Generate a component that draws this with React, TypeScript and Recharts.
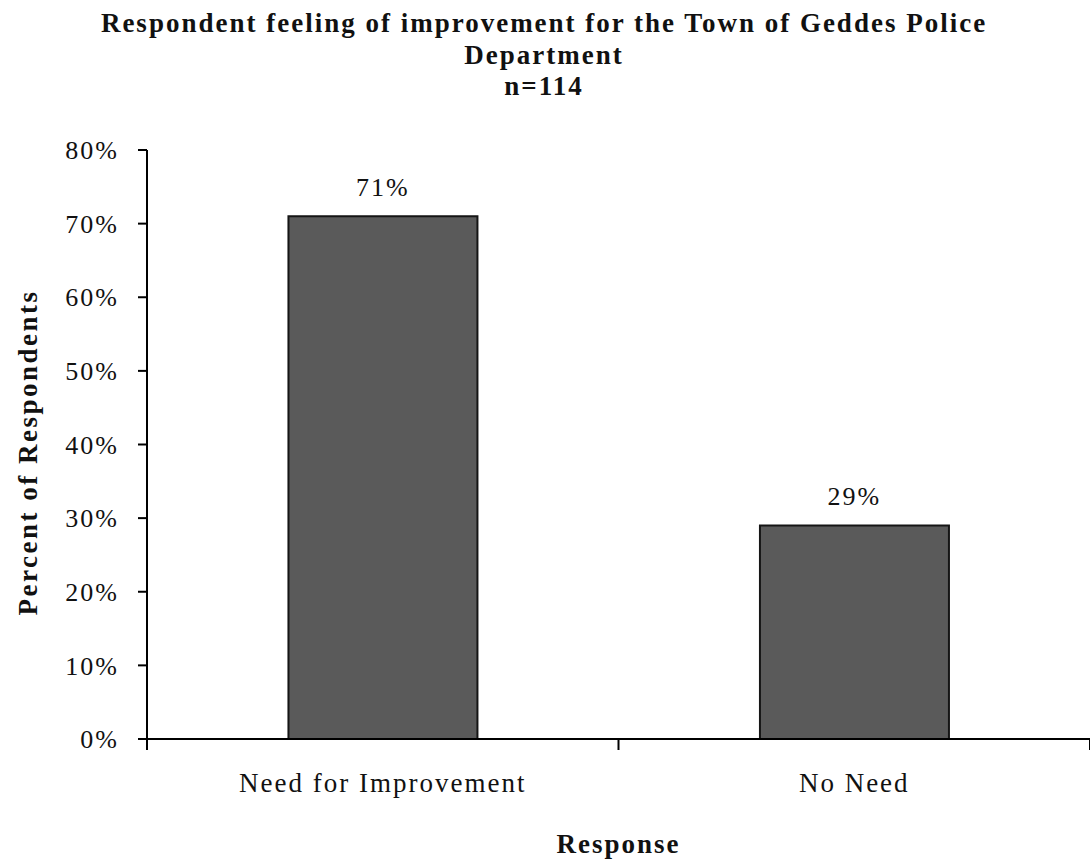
import { BarChart, Bar, XAxis, YAxis, LabelList } from "recharts";

const categories = ["Need for Improvement", "No Need"];
const percentValues = [71, 29];
const yTicks = [0, 10, 20, 30, 40, 50, 60, 70, 80];

const data = categories.map((name, i) => ({ name, value: percentValues[i] }));

const serif = "Liberation Serif, Times New Roman, serif";

function CategoryTick(props: any) {
  const { x, y, payload, index } = props;
  const half = payload?.offset ?? 0;
  return (
    <g>
      {/* tick marks sit on the band edges, not the band centres */}
      {index === 0 && (
        <line x1={x - half} y1={y - 8} x2={x - half} y2={y + 3} stroke="#000" strokeWidth={2} />
      )}
      <line x1={x + half} y1={y - 8} x2={x + half} y2={y + 3} stroke="#000" strokeWidth={2} />
      <text
        x={x}
        y={y + 45}
        textAnchor="middle"
        fontFamily={serif}
        fontSize={27}
        letterSpacing={2}
        fill="#111"
      >
        {payload.value}
      </text>
    </g>
  );
}

export default function App() {
  return (
    <div
      style={{
        position: "absolute",
        left: 0,
        top: 0,
        width: 1090,
        height: 863,
        background: "#fff",
      }}
    >
      <div
        style={{
          position: "absolute",
          left: 0,
          top: 8,
          width: 1088,
          textAlign: "center",
          fontFamily: serif,
          fontWeight: "bold",
          fontSize: 27,
          letterSpacing: 2,
          lineHeight: "31.5px",
          color: "#111",
        }}
      >
        Respondent feeling of improvement for the Town of Geddes Police
        <br />
        Department
        <br />
        n=114
      </div>
      <BarChart
        width={1090}
        height={863}
        data={data}
        margin={{ top: 150, right: 0, bottom: 0, left: 0 }}
        barCategoryGap="30%"
      >
        <YAxis
          width={147}
          domain={[0, 80]}
          ticks={yTicks}
          interval={0}
          tickFormatter={(v) => `${v}%`}
          tickSize={9}
          tickMargin={19}
          stroke="#000"
          strokeWidth={2}
          tick={{ fontFamily: serif, fontSize: 26, fill: "#111", letterSpacing: 2 }}
          label={(p: any) => {
            const vb = p.viewBox;
            const cx = vb.x + 28;
            const cy = vb.y + vb.height / 2 + 8;
            return (
              <text
                x={cx}
                y={cy}
                transform={`rotate(-90, ${cx}, ${cy})`}
                textAnchor="middle"
                dominantBaseline="central"
                fontFamily={serif}
                fontWeight="bold"
                fontSize={27}
                letterSpacing={2.5}
                fill="#111"
              >
                Percent of Respondents
              </text>
            );
          }}
        />
        <XAxis
          dataKey="name"
          height={124}
          stroke="#000"
          strokeWidth={2}
          tickLine={false}
          tick={<CategoryTick />}
          interval={0}
          label={(p: any) => {
            const vb = p.viewBox;
            return (
              <text
                x={vb.x + vb.width / 2}
                y={vb.y + 114}
                textAnchor="middle"
                fontFamily={serif}
                fontWeight="bold"
                fontSize={27}
                letterSpacing={2}
                fill="#111"
              >
                Response
              </text>
            );
          }}
        />
        <Bar
          dataKey="value"
          fill="#5a5a5a"
          stroke="#151515"
          strokeWidth={2}
          isAnimationActive={false}
        >
          <LabelList
            dataKey="value"
            position="top"
            offset={20}
            formatter={(v: any) => `${v}%`}
            style={{ fontFamily: serif, fontSize: 26, fill: "#111", letterSpacing: 2 }}
          />
        </Bar>
      </BarChart>
    </div>
  );
}
